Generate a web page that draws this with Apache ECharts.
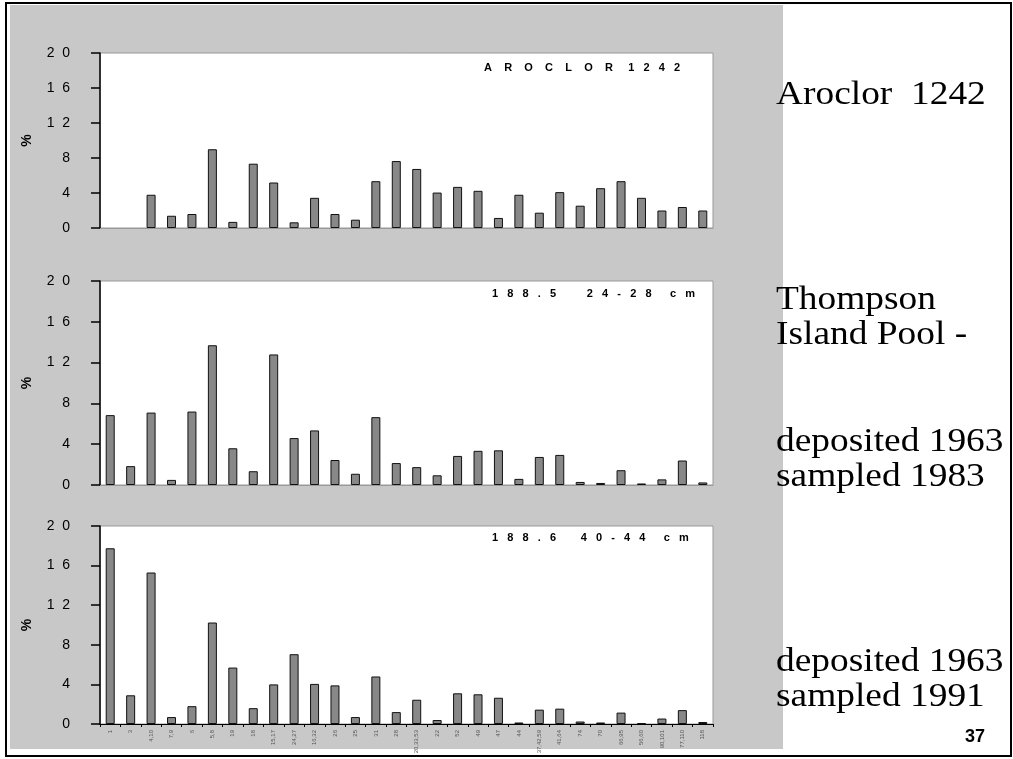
<!DOCTYPE html>
<html>
<head>
<meta charset="utf-8">
<script src="https://cdn.jsdelivr.net/npm/echarts@6/dist/echarts.min.js"></script>
<style>
  html, body { margin: 0; padding: 0; background: #fff; }
  #chart { width: 1013px; height: 759px; }
</style>
</head>
<body>
<div id="chart"></div>
<script>
// 同族体编号（x轴）
var categories = ['1', '3', '4,10', '7,9', '6', '5,8', '19', '18', '15,17', '24,27',
  '16,32', '26', '25', '31', '28', '20,33,53', '22', '52', '49', '47',
  '44', '37,42,59', '41,64', '74', '70', '66,95', '56,60', '90,101', '77,110', '118'];

// Aroclor 1242 标准
var aroclor1242 = [0, 0, 3.8, 1.4, 1.6, 9.0, 0.7, 7.35, 5.2, 0.65,
  3.45, 1.6, 0.95, 5.35, 7.65, 6.75, 4.05, 4.7, 4.25, 1.15,
  3.8, 1.75, 4.1, 2.55, 4.55, 5.35, 3.45, 2.0, 2.4, 2.0];

// 188.5  24-28 cm
var core24to28 = [6.85, 1.85, 7.1, 0.5, 7.2, 13.7, 3.6, 1.35, 12.8, 4.6,
  5.35, 2.45, 1.1, 6.65, 2.15, 1.75, 0.95, 2.85, 3.35, 3.4,
  0.6, 2.75, 2.95, 0.3, 0.2, 1.45, 0.15, 0.55, 2.4, 0.25];

// 188.6  40-44 cm
var core40to44 = [17.75, 2.9, 15.3, 0.7, 1.8, 10.25, 5.7, 1.6, 4.0, 7.05,
  4.05, 3.9, 0.7, 4.8, 1.2, 2.45, 0.4, 3.1, 3.0, 2.65,
  0.15, 1.45, 1.55, 0.25, 0.15, 1.15, 0.1, 0.55, 1.4, 0.2];

var panelTitles = [
  'A    R    O    C    L    O    R     1   2   4   2',
  '1   8   8   .   5          2   4   -   2   8      c   m',
  '1   8   8   .   6        4   0   -   4   4      c   m'
];

var sideTexts = [
  { text: 'Aroclor  1242', y: 95 },
  { text: 'Thompson', y: 300 },
  { text: 'Island Pool -', y: 335 },
  { text: 'deposited 1963', y: 442 },
  { text: 'sampled 1983', y: 477 },
  { text: 'deposited 1963', y: 662 },
  { text: 'sampled 1991', y: 697 }
];

;(function () {
  var myChart = echarts.init(document.getElementById('chart'));

  var grids = [
    { left: 100, width: 613, top: 53, height: 175 },
    { left: 100, width: 613, top: 281, height: 204 },
    { left: 100, width: 613, top: 526, height: 198 }
  ];
  var seriesData = [aroclor1242, core24to28, core40to44];
  var titleTops = [62, 288, 532];

  var option = {
    animation: false,
    backgroundColor: '#fff',
    title: panelTitles.map(function (t, i) {
      return {
        text: t,
        padding: 0,
        left: i === 0 ? 484 : 492,
        top: titleTops[i],
        textStyle: { fontFamily: 'Liberation Sans, Arial', fontSize: 11, fontWeight: 'bold', color: '#000' }
      };
    }),
    grid: grids.map(function (g) {
      return Object.assign({ show: true, backgroundColor: '#fff', borderColor: '#999', borderWidth: 1 }, g);
    }),
    xAxis: grids.map(function (g, i) {
      var last = i === 2;
      return {
        type: 'category',
        gridIndex: i,
        data: categories,
        boundaryGap: true,
        axisLine: { show: true, lineStyle: { color: last ? '#000' : '#999', width: 1 } },
        axisTick: { show: last, length: 3, lineStyle: { color: '#000' } },
        axisLabel: {
          show: last,
          interval: 0,
          rotate: 90,
          fontSize: 6,
          margin: 6,
          color: '#555',
          fontFamily: 'Liberation Sans, Arial'
        },
        splitLine: { show: false }
      };
    }),
    yAxis: grids.map(function (g, i) {
      return {
        type: 'value',
        gridIndex: i,
        min: 0,
        max: 20,
        interval: 4,
        name: '%',
        nameLocation: 'middle',
        nameRotate: 90,
        nameGap: 66,
        nameTextStyle: { fontFamily: 'Liberation Sans, Arial', fontSize: 14, fontWeight: 'bold', color: '#000' },
        axisLine: { show: true, lineStyle: { color: '#000', width: 1.5 } },
        axisTick: { show: true, length: 9, lineStyle: { color: '#000', width: 1.5 } },
        axisLabel: {
          margin: 30,
          fontSize: 14,
          color: '#000',
          fontFamily: 'Liberation Sans, Arial',
          formatter: function (v) { return String(v).split('').join('  '); }
        },
        splitLine: { show: false }
      };
    }),
    series: seriesData.map(function (d, i) {
      return {
        type: 'bar',
        xAxisIndex: i,
        yAxisIndex: i,
        // 0 值不画柱子
        data: d.map(function (v) { return v === 0 ? '-' : v; }),
        barWidth: 9,
        itemStyle: { color: '#888', borderColor: '#111', borderWidth: 1 }
      };
    }),
    graphic: [
      // 灰色背景区域
      { type: 'rect', z: -10, silent: true, shape: { x: 10, y: 5, width: 773, height: 744 }, style: { fill: '#c8c8c8' } },
      // 外框
      { type: 'rect', z: 100, silent: true, shape: { x: 6, y: 3, width: 1005, height: 753 }, style: { fill: 'none', stroke: '#000', lineWidth: 2 } },
      { type: 'text', left: 965, top: 728, style: { text: '37', font: 'bold 18px Liberation Sans, Arial', fill: '#000' } }
    ].concat(sideTexts.map(function (s) {
      return {
        type: 'text',
        x: 776,
        y: s.y,
        scaleX: 1.1,
        style: {
          text: s.text,
          fill: '#000',
          font: '34px Liberation Serif, Times New Roman',
          textVerticalAlign: 'middle'
        }
      };
    }))
  };

  myChart.setOption(option);
  window.addEventListener('resize', function () {
    myChart.resize();
  });
})();
</script>
</body>
</html>
